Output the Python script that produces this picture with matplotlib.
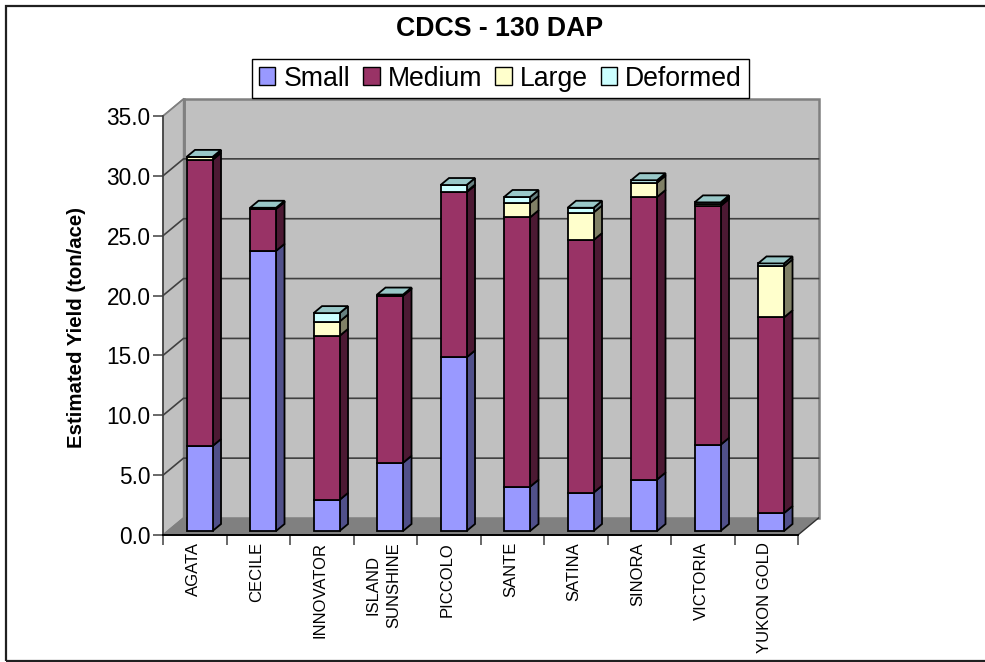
"""Stacked 3-D style column chart of estimated yield by potato variety."""
import numpy as np
import matplotlib
matplotlib.use("Agg")
import matplotlib.pyplot as plt
from matplotlib.patches import Patch, Polygon, Rectangle
from matplotlib.transforms import ScaledTranslation

plt.rcParams["font.family"] = ["Liberation Sans", "DejaVu Sans"]

VARIETIES = ["AGATA", "CECILE", "INNOVATOR", "ISLAND\nSUNSHINE", "PICCOLO",
             "SANTE", "SATINA", "SINORA", "VICTORIA", "YUKON GOLD"]
SMALL = [7.1, 23.4, 2.6, 5.7, 14.5, 3.7, 3.2, 4.3, 7.2, 1.5]
MEDIUM = [23.9, 3.5, 13.7, 13.95, 13.8, 22.5, 21.1, 23.6, 19.95, 16.35]
LARGE = [0.2, 0.05, 1.2, 0.05, 0.05, 1.2, 2.3, 1.2, 0.15, 4.25]
DEFORMED = [0.05, 0.05, 0.7, 0.05, 0.55, 0.5, 0.4, 0.2, 0.15, 0.25]
YTICKS = [0, 5, 10, 15, 20, 25, 30, 35]

SERIES = [("Small", SMALL, "#9999FF", "#50508A"),
          ("Medium", MEDIUM, "#993366", "#4C1933"),
          ("Large", LARGE, "#FFFFCC", "#808066"),
          ("Deformed", DEFORMED, "#CCFFFF", "#668080")]
TOP_COLOR = "#99C8C8"
WALL = "#C0C0C0"
FLOOR = "#808080"
EDGE = "#808080"
GRID = "#404040"

W, H = 985, 662
LEFT, RIGHT, BOTTOM, TOP = 163, 798, 535, 116   # front plane, pixels from top-left

fig = plt.figure(figsize=(W / 100, H / 100), dpi=100, facecolor="white")
ax = fig.add_axes([LEFT / W, 1 - BOTTOM / H, (RIGHT - LEFT) / W, (BOTTOM - TOP) / H])
ax.set_xlim(0, 10)
ax.set_ylim(0, 35)
ax.patch.set_visible(False)

# depth of the box, in data units
px_x = 10 / (RIGHT - LEFT)
px_y = 35 / (BOTTOM - TOP)
DX = 20.5 * px_x
DY = 17 * px_y


def face(points, fc, ec="black", lw=1.3, z=2):
    ax.add_patch(Polygon(points, closed=True, facecolor=fc, edgecolor=ec, linewidth=lw,
                         joinstyle="miter", clip_on=False, zorder=z))


# side wall, back wall, floor
face([(0, 0), (DX, DY), (DX, 35 + DY), (0, 35)], WALL, EDGE, 1.0, 0.5)
face([(DX, DY), (10 + DX, DY), (10 + DX, 35 + DY), (DX, 35 + DY)], WALL, EDGE, 1.8, 0.6)
face([(0, 0), (10, 0), (10 + DX, DY), (DX, DY)], FLOOR, "none", 0, 0.7)
ax.plot([10, 10 + DX], [0, DY], color="#303030", lw=1.0, clip_on=False, zorder=0.8)
ax.plot([DX, DX], [DY, 35 + DY], color=EDGE, lw=1.8, clip_on=False, zorder=0.8)

# gridlines along the back and side walls
for v in YTICKS[1:-1]:
    ax.plot([0, DX, 10 + DX], [v, v + DY, v + DY], color=GRID, lw=1.2,
            clip_on=False, zorder=0.9)
ax.plot([0, DX], [35, 35 + DY], color=EDGE, lw=1.2, clip_on=False, zorder=0.9)
ax.plot([0, DX], [0, DY], color=EDGE, lw=1.2, clip_on=False, zorder=0.9)

# stacked columns, each segment drawn as front plus side, the cap on top
BAR_W = 26 * px_x
D0 = 4.0 / 17
D1 = 11.0 / 17
bar_dx = (D1 - D0) * DX
bar_dy = (D1 - D0) * DY
for i in range(len(VARIETIES)):
    x0 = i + 0.5 + D0 * DX - BAR_W / 2
    x1 = x0 + BAR_W
    base = 0.0
    # the data floor of each column sits forward of the back wall
    y_off = D0 * DY
    for name, values, color, shade in SERIES:
        v = values[i]
        y0, y1 = base + y_off, base + v + y_off
        face([(x1, y0), (x1 + bar_dx, y0 + bar_dy), (x1 + bar_dx, y1 + bar_dy), (x1, y1)],
             shade, z=2 + i * 0.01)
        face([(x0, y0), (x1, y0), (x1, y1), (x0, y1)], color, z=2 + i * 0.01)
        base += v
    y_top = base + y_off
    face([(x0, y_top), (x1, y_top), (x1 + bar_dx, y_top + bar_dy), (x0 + bar_dx, y_top + bar_dy)],
         TOP_COLOR, z=2.5 + i * 0.01)

# axes furniture
for side in ("top", "right"):
    ax.spines[side].set_visible(False)
ax.spines["left"].set_color(GRID)
ax.spines["left"].set_linewidth(1.2)
ax.spines["bottom"].set_color("black")
ax.spines["bottom"].set_linewidth(1.4)
ax.spines["left"].set_zorder(4)
ax.spines["bottom"].set_zorder(4)

ax.set_yticks(YTICKS)
ax.set_yticklabels([f"{v:.1f}" for v in YTICKS], fontsize=16.3)
ax.tick_params(axis="y", length=7, width=1.1, color=GRID, pad=2)

ax.set_xticks(np.arange(0, 11))
ax.set_xticklabels([])
ax.tick_params(axis="x", which="major", length=7, width=1.1, color=GRID)
ax.set_xticks(np.arange(10) + 0.5, minor=True)
ax.set_xticklabels(VARIETIES, minor=True, rotation=90, fontsize=12, va="top",
                   ha="center", linespacing=1.5)
ax.tick_params(axis="x", which="minor", length=0, pad=5)
shift = ScaledTranslation(-1.5 / 100, 0, fig.dpi_scale_trans)
for label in ax.get_xticklabels(minor=True):
    label.set_transform(label.get_transform() + shift)

fig.text(77 / W, 1 - 327 / H, "Estimated Yield (ton/ace)", rotation=90, fontsize=14.7,
         fontweight="bold", ha="center", va="center")
fig.text(500 / W, 1 - 29 / H, "CDCS - 130 DAP", fontsize=19.15, fontweight="bold",
         ha="center", va="center")

# legend box sits over the top edge of the back wall
handles = [Patch(facecolor=c, edgecolor="black", linewidth=1.0, label=n)
           for n, _, c, _ in SERIES]
fig.legend(handles=handles, loc="center", bbox_to_anchor=(500.5 / W, 1 - 78.5 / H),
           ncol=4, fontsize=19.2, frameon=True, fancybox=False, framealpha=1,
           edgecolor="black", borderpad=0.25, handlelength=0.62, handleheight=0.62,
           handletextpad=0.3, columnspacing=0.49, borderaxespad=0)

# outer chart frame runs off the right edge of the page
fig.add_artist(Rectangle((5.5 / W, 1 - 661 / H), 1.1, 655 / H, transform=fig.transFigure,
                         facecolor="none", edgecolor="#202020", linewidth=1.6))

fig.savefig("out.png", dpi=100, facecolor="white")
plt.close(fig)
